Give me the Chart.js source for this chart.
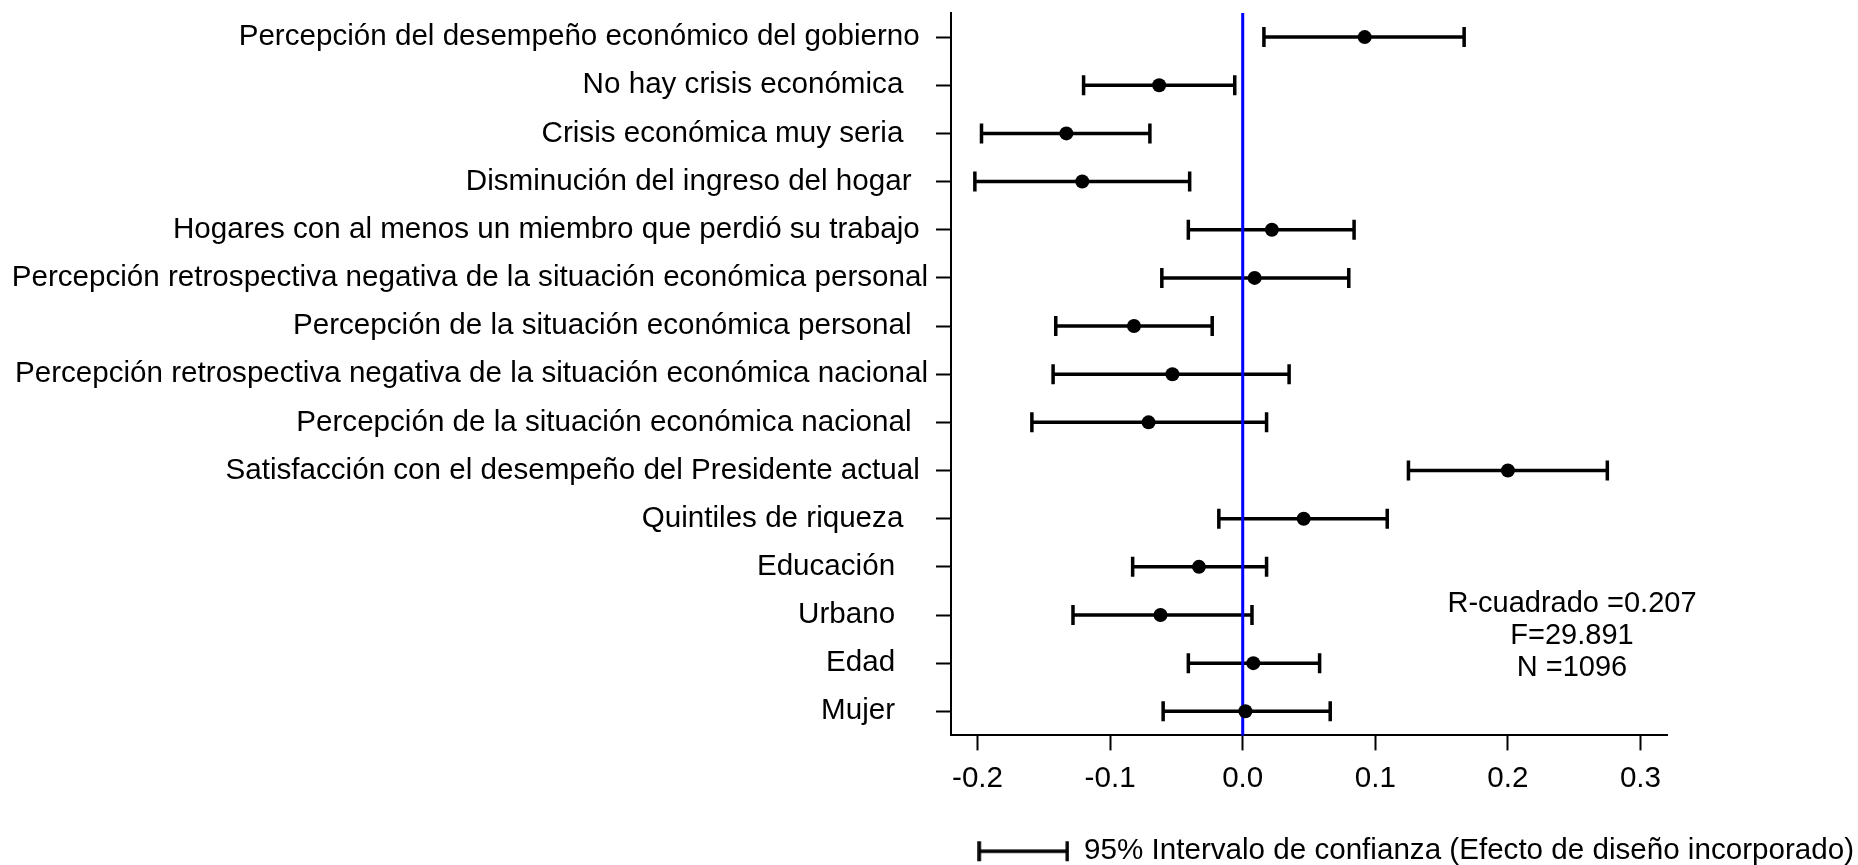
<!DOCTYPE html>
<html>
<head>
<meta charset="utf-8">
<script src="https://cdn.jsdelivr.net/npm/chart.js@4.4.0/dist/chart.umd.min.js"></script>
<style>
    html, body { margin: 0; padding: 0; background: #fff; overflow: hidden; }
    #wrap { width: 1858px; height: 865px; position: relative; }
</style>
</head>
<body>
<div id="wrap"><canvas id="chart"></canvas></div>
<script>
// Categories (top to bottom), trailing spaces as in the source labels
const labels = [
    'Percepción del desempeño económico del gobierno ',
    'No hay crisis económica   ',
    'Crisis económica muy seria   ',
    'Disminución del ingreso del hogar  ',
    'Hogares con al menos un miembro que perdió su trabajo ',
    'Percepción retrospectiva negativa de la situación económica personal',
    'Percepción de la situación económica personal  ',
    'Percepción retrospectiva negativa de la situación económica nacional',
    'Percepción de la situación económica nacional  ',
    'Satisfacción con el desempeño del Presidente actual ',
    'Quintiles de riqueza   ',
    'Educación    ',
    'Urbano    ',
    'Edad    ',
    'Mujer    '
];

// Coefficients and 95% CI bounds
const coef  = [0.092, -0.063, -0.133, -0.121, 0.022, 0.009, -0.082, -0.053, -0.071, 0.200, 0.046, -0.033, -0.062, 0.008, 0.002];
const lower = [0.016, -0.120, -0.197, -0.202, -0.041, -0.061, -0.141, -0.143, -0.159, 0.125, -0.018, -0.083, -0.128, -0.041, -0.060];
const upper = [0.167, -0.006, -0.070, -0.040, 0.084, 0.080, -0.023, 0.035, 0.018, 0.275, 0.109, 0.018, 0.007, 0.058, 0.066];

const xTickValues = [-0.2, -0.1, 0.0, 0.1, 0.2, 0.3];
const statsLines = ['R-cuadrado =0.207', 'F=29.891', 'N =1096'];
const legendText = '95% Intervalo de confianza (Efecto de diseño incorporado)';

const FONT = '"Liberation Sans", Arial, sans-serif';
Chart.defaults.font.family = FONT;
Chart.defaults.font.size = 29.6;
Chart.defaults.color = '#000';

// Legend symbol: a capped horizontal line
function makeLegendSymbol() {
    const c = document.createElement('canvas');
    c.width = 92;
    c.height = 22;
    const g = c.getContext('2d');
    g.strokeStyle = '#000';
    g.lineWidth = 3.5;
    g.beginPath();
    g.moveTo(2, 11); g.lineTo(90, 11);
    g.moveTo(2, 1);  g.lineTo(2, 21);
    g.moveTo(90, 1); g.lineTo(90, 21);
    g.stroke();
    return c;
}
const legendSymbol = makeLegendSymbol();

// Error bars and the zero reference line, drawn under the points
const whiskers = {
    id: 'whiskers',
    beforeDatasetsDraw(chart) {
        const { ctx, chartArea } = chart;
        const x = chart.scales.x, y = chart.scales.y;
        ctx.save();
        ctx.strokeStyle = '#000';
        ctx.lineWidth = 3.5;
        labels.forEach((_, i) => {
            const py = y.getPixelForValue(i);
            const x0 = x.getPixelForValue(lower[i]);
            const x1 = x.getPixelForValue(upper[i]);
            ctx.beginPath();
            ctx.moveTo(x0, py); ctx.lineTo(x1, py);
            ctx.moveTo(x0, py - 10); ctx.lineTo(x0, py + 10);
            ctx.moveTo(x1, py - 10); ctx.lineTo(x1, py + 10);
            ctx.stroke();
        });
        const zx = x.getPixelForValue(0);
        ctx.strokeStyle = '#0000ff';
        ctx.lineWidth = 3;
        ctx.beginPath();
        ctx.moveTo(zx, chartArea.top);
        ctx.lineTo(zx, chartArea.bottom);
        ctx.stroke();
        ctx.restore();
    }
};

// Model statistics text
const stats = {
    id: 'stats',
    afterDraw(chart) {
        const { ctx, chartArea } = chart;
        ctx.save();
        ctx.font = '29px ' + FONT;
        ctx.fillStyle = '#000';
        ctx.textAlign = 'center';
        ctx.textBaseline = 'middle';
        const cx = chartArea.right - 95;
        statsLines.forEach((t, i) => {
            ctx.fillText(t, cx, chartArea.bottom - 131 + i * 32);
        });
        ctx.restore();
    }
};

const noPad = (s) => { s.paddingTop = 0; s.paddingBottom = 0; s.paddingLeft = 0; s.paddingRight = 0; };

new Chart(document.getElementById('chart'), {
    type: 'scatter',
    data: {
        labels: labels,
        datasets: [{
            label: legendText,
            data: coef.map((c, i) => ({ x: c, y: i })),
            pointRadius: 7,
            pointHoverRadius: 7,
            backgroundColor: '#000',
            borderColor: '#000',
            borderWidth: 0
        }]
    },
    options: {
        responsive: true,
        maintainAspectRatio: false,
        animation: false,
        layout: { padding: { top: 13, left: 0, right: 0, bottom: -11 } },
        plugins: {
            tooltip: { enabled: false },
            legend: {
                position: 'bottom',
                align: 'end',
                labels: {
                    usePointStyle: true,
                    pointStyleWidth: 92,
                    padding: 4,
                    font: { size: 29.6 },
                    color: '#000',
                    generateLabels: () => [{
                        text: legendText,
                        pointStyle: legendSymbol,
                        fillStyle: '#000',
                        strokeStyle: '#000',
                        lineWidth: 0,
                        hidden: false,
                        datasetIndex: 0
                    }]
                }
            }
        },
        scales: {
            x: {
                type: 'linear',
                min: -0.22,
                max: 0.32,
                afterBuildTicks: (s) => { s.ticks = xTickValues.map(v => ({ value: v })); },
                afterFit: (s) => { noPad(s); s.height = 97; },
                border: { display: true, color: '#000', width: 2 },
                grid: { display: true, drawOnChartArea: false, drawTicks: true, tickLength: 15, tickColor: '#000', tickWidth: 2 },
                ticks: {
                    padding: 11,
                    autoSkip: false,
                    maxRotation: 0,
                    callback: (v) => Number(v).toFixed(1)
                }
            },
            y: {
                type: 'category',
                labels: labels,
                offset: true,
                afterFit: (s) => { noPad(s); s.width = 951; },
                border: { display: true, color: '#000', width: 2 },
                grid: { display: true, offset: false, drawOnChartArea: false, drawTicks: true, tickLength: 15, tickColor: '#000', tickWidth: 2 },
                ticks: { padding: 8, autoSkip: false }
            },
            yRight: {
                type: 'category',
                position: 'right',
                labels: labels,
                afterFit: (s) => { noPad(s); s.width = 191; },
                border: { display: false },
                grid: { display: false },
                ticks: { display: false }
            }
        }
    },
    plugins: [whiskers, stats]
});
</script>
</body>
</html>
